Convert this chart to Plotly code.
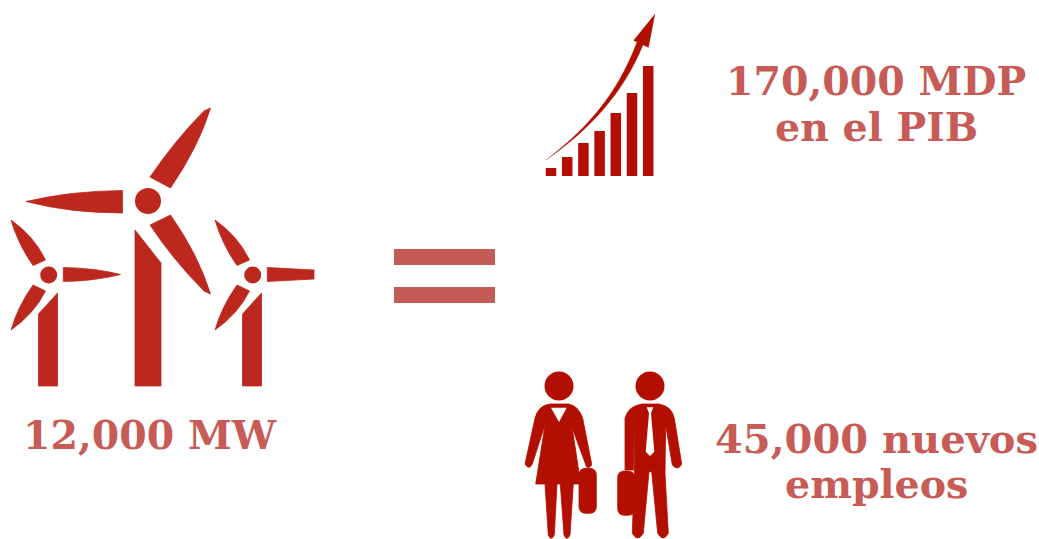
import plotly.graph_objects as go

# Data
label_texts = ["12,000 MW", "170,000 MDP", "en el PIB", "45,000 nuevos", "empleos"]
growth_bar_heights = [8, 19, 33, 45, 63, 83, 110]

TURBINE = "#BC281E"
ICON = "#B30F00"
TEXT = "#C75B55"
EQUALS = "#C45B55"
FONT = "DejaVu Serif"

shapes = []


def add(path, color, soft=0.8):
    shapes.append(dict(type="path", path=path, fillcolor=color, layer="above",
                       line=dict(color=color, width=soft)))


def circle(cx, cy, r, color):
    shapes.append(dict(type="circle", x0=cx - r, x1=cx + r, y0=cy - r, y1=cy + r,
                       fillcolor=color, line_width=0, layer="above"))


def rrect(x0, y0, x1, y1, r):
    return (f"M{x0+r},{y0} L{x1-r},{y0} Q{x1},{y0} {x1},{y0+r} L{x1},{y1-r} Q{x1},{y1} {x1-r},{y1} "
            f"L{x0+r},{y1} Q{x0},{y1} {x0},{y1-r} L{x0},{y0+r} Q{x0},{y0} {x0+r},{y0} Z")


# Large turbine
circle(148, 201, 13, TURBINE)
add("M150,177 Q176,139 204,111 L210.5,108 Q199,146 170.5,188 Z", TURBINE)
add("M26,201.5 Q70,191 122.5,190.5 L122.5,213 Q70,213 26,201.5 Z", TURBINE)
add("M150,225 L170.5,215 Q198,254 210.5,294 L204,291 Q174,261 150,225 Z", TURBINE)
add("M135,230 L161,263 L161,386 L135,386 Z", TURBINE)


# Small turbines
def small(dx, clip=False):
    circle(48.7 + dx, 275, 8.5, TURBINE)
    if clip:
        add(f"M{63.3+dx},267.5 L{110+dx},270 L{110+dx},279 L{63.3+dx},281.5 Z", TURBINE)
    else:
        add(f"M{63.3+dx},267.5 Q{95+dx},268 {120.5+dx},274.5 Q{95+dx},281 {63.3+dx},281.5 Z", TURBINE)
    add(f"M{11+dx},220 Q{34+dx},236 {45.5+dx},260 L{33+dx},265.5 Q{18+dx},244 {11+dx},220 Z", TURBINE)
    add(f"M{11+dx},330 Q{18+dx},306 {33+dx},285 L{45.5+dx},291 Q{34+dx},314 {11+dx},330 Z", TURBINE)
    add(f"M{38.5+dx},314 L{57.5+dx},293 L{57.5+dx},386 L{38.5+dx},386 Z", TURBINE)


small(0)
small(204, clip=True)

# Equals sign
shapes.append(dict(type="rect", x0=394, x1=495, y0=249, y1=265, fillcolor=EQUALS, line_width=0))
shapes.append(dict(type="rect", x0=394, x1=495, y0=287, y1=303, fillcolor=EQUALS, line_width=0))

# Growth arrow
add("M546,160 C582,132 615,100 637,42 L633.5,40.5 L655,14 L648.5,47.5 L643,45 "
    "C624,92 590,130 546,160 Z", ICON, 0.2)


# People: traced in a 3x frame
def P(pairs):
    out = []
    for cmd, pts in pairs:
        conv = [f"{515+x/3:.1f},{360+y/3:.1f}" for x, y in pts]
        if cmd == "L":
            out.extend("L" + c for c in conv)
        else:
            out.append(cmd + " ".join(conv))
    return " ".join(out) + " Z"


# Woman
circle(559, 386, 14.5, ICON)
add(P([("M", [(105, 132)]), ("L", [(160, 132)]), ("Q", [(190, 136), (203, 175)]),
       ("L", [(230, 312)]), ("Q", [(228, 324), (215, 322)]), ("L", [(172, 205)]),
       ("L", [(197, 372), (175, 372), (165, 525)]), ("Q", [(155, 545), (147, 525)]),
       ("L", [(136, 372), (126, 372), (118, 525)]), ("Q", [(108, 545), (100, 525)]),
       ("L", [(90, 372), (62, 372), (90, 195), (52, 312)]), ("Q", [(42, 332), (30, 312)]),
       ("L", [(60, 175)]), ("Q", [(70, 136), (105, 132)])]), ICON)
add(P([("M", [(108, 143)]), ("L", [(155, 143), (132, 186)])]), "#FFFFFF", 0)
add(rrect(515 + 192 / 3, 360 + 325 / 3, 515 + 244 / 3, 360 + 460 / 3, 7), ICON)

# Man
circle(650, 386, 14.5, ICON)
add(P([("M", [(380, 132)]), ("L", [(432, 132)]), ("Q", [(470, 138), (478, 175)]),
       ("L", [(500, 312)]), ("Q", [(488, 335), (472, 315)]), ("L", [(452, 195), (450, 340), (460, 520)]),
       ("Q", [(445, 548), (428, 520)]), ("L", [(410, 335), (402, 335), (385, 520)]),
       ("Q", [(368, 548), (352, 520)]), ("L", [(358, 340), (358, 200), (355, 330), (330, 330), (330, 175)]),
       ("Q", [(340, 138), (380, 132)])]), ICON)
add(P([("M", [(395, 142)]), ("L", [(415, 142), (408, 160), (418, 275), (405, 288), (392, 275), (402, 160)])]),
    "#FFFFFF", 0)
add(rrect(515 + 308 / 3, 360 + 333 / 3, 515 + 359 / 3, 360 + 466 / 3, 7), ICON)

fig = go.Figure()
fig.add_trace(go.Bar(x=[551 + 16.2 * i for i in range(len(growth_bar_heights))],
                     y=[-h for h in growth_bar_heights], base=176, width=10.5,
                     marker=dict(color=ICON, line_width=0), hoverinfo="skip", showlegend=False))

label_pos = [(150, 435), (876, 81), (876, 127), (876, 438), (876, 484)]
annotations = [dict(x=x, y=y, text=f"<b>{t}</b>", showarrow=False, xanchor="center", yanchor="middle",
                    font=dict(family=FONT, size=40 if i == 3 else 39.5, color=TEXT))
               for i, (t, (x, y)) in enumerate(zip(label_texts, label_pos))]

fig.update_layout(
    width=1039, height=539, autosize=False,
    margin=dict(l=0, r=0, t=0, b=0),
    paper_bgcolor="#FFFFFF", plot_bgcolor="#FFFFFF",
    xaxis=dict(range=[0, 1039], visible=False, fixedrange=True),
    yaxis=dict(range=[539, 0], visible=False, fixedrange=True),
    shapes=shapes, annotations=annotations, showlegend=False,
)
fig.write_html("out.html", config=dict(displayModeBar=False),
               post_script="document.body.style.margin='0';document.body.style.overflow='hidden';")
